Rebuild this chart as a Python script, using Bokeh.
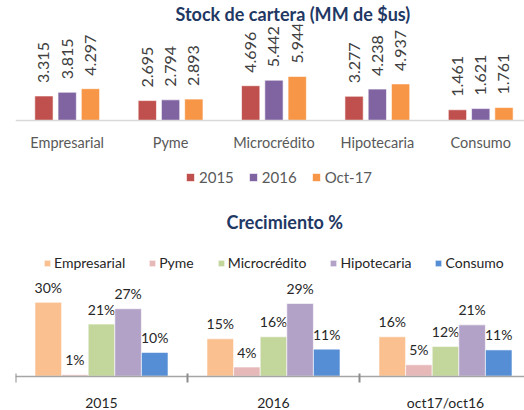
import math
from bokeh.plotting import figure
from bokeh.models import (Range1d, FixedTicker, Legend, LegendItem,
                          ColumnDataSource, LinearAxis)
from bokeh.layouts import column
from bokeh.core.properties import value
from bokeh.embed import file_html
from bokeh.resources import INLINE

# ---------------- data ----------------
categories = ["Empresarial", "Pyme", "Microcrédito", "Hipotecaria", "Consumo"]
stock_series = ["2015", "2016", "Oct-17"]
stock_2015 = [3.315, 2.695, 4.696, 3.277, 1.461]
stock_2016 = [3.815, 2.794, 5.442, 4.238, 1.621]
stock_oct17 = [4.297, 2.893, 5.944, 4.937, 1.761]
stock_colors = ["#C0504D", "#8064A2", "#F79646"]

growth_periods = ["2015", "2016", "oct17/oct16"]
growth_series = ["Empresarial", "Pyme", "Microcrédito", "Hipotecaria", "Consumo"]
growth_empresarial = [29.8, 15.1, 15.9]
growth_pyme = [0.6, 3.7, 4.6]
growth_micro = [21.0, 15.9, 12.0]
growth_hipo = [27.2, 29.3, 20.7]
growth_consumo = [9.6, 10.9, 10.6]
growth_colors = ["#FAC090", "#E6B9B8", "#C3D69B", "#B3A2C7", "#558ED5"]

FONT = "Lato"
TITLE_COLOR = "#1F3864"
W = 524

# ---------------- top chart ----------------
H1 = 198
top_px_per_unit = 7.45
top_cat_px = 104.6
t_left = 9
t_frame_top, t_base = 23.7, 120

p1 = figure(width=W, height=H1, output_backend="svg", toolbar_location=None,
            x_axis_type=None, y_axis_type=None,
            x_range=Range1d(-0.5, -0.5 + (W - t_left) / top_cat_px),
            y_range=Range1d(-(H1 - t_base) / top_px_per_unit,
                            (t_base - t_frame_top) / top_px_per_unit),
            min_border_left=t_left, min_border_right=0, min_border_top=23,
            min_border_bottom=0)
p1.outline_line_color = None
p1.title.text = "Stock de cartera (MM de $us)"
p1.title.align = "left"
p1.title.offset = 160
p1.title.vertical_align = "bottom"
p1.title.standoff = 0
p1.title.text_font = FONT
p1.title.text_font_size = "18px"
p1.title.text_font_style = "bold"
p1.title.text_color = TITLE_COLOR

top_offsets = [-0.225, 0.0, 0.225]
top_width = 0.177
items = []
for k, (name, vals, col) in enumerate(zip(stock_series,
                                          [stock_2015, stock_2016, stock_oct17],
                                          stock_colors)):
    src = ColumnDataSource(dict(
        x=[i + top_offsets[k] for i in range(len(categories))],
        top=vals,
        label=[f"{v:.3f}" for v in vals]))
    r = p1.vbar(x="x", top="top", bottom=0, width=top_width, source=src,
                fill_color=col, line_color="white", line_alpha=0.6, line_width=1)
    p1.text(x="x", y="top", text="label", source=src, angle=math.pi / 2,
            text_align="left", text_baseline="middle", y_offset=-13,
            text_font=value(FONT), text_font_size="16px", text_color="#404040")
    items.append(LegendItem(label=value(name), renderers=[r]))

ax1 = LinearAxis(ticker=FixedTicker(ticks=list(range(len(categories)))),
                 major_label_overrides={i: c for i, c in enumerate(categories)},
                 fixed_location=0)
ax1.axis_line_color = "#D9D9D9"
ax1.axis_line_width = 1.5
ax1.major_tick_line_color = None
ax1.major_tick_in = 0
ax1.major_tick_out = 0
ax1.minor_tick_line_color = None
ax1.major_label_standoff = 13
ax1.major_label_text_font = FONT
ax1.major_label_text_font_size = "14.5px"
ax1.major_label_text_color = "#595959"
p1.add_layout(ax1, "below")

leg1 = Legend(items=items, orientation="horizontal", location=(170, 12),
              glyph_width=10, glyph_height=10, label_height=10,
              label_standoff=4, spacing=14, padding=0, margin=0,
              border_line_color=None, background_fill_alpha=0,
              label_text_font=FONT, label_text_font_size="15px",
              label_text_color="#595959")
p1.add_layout(leg1)

# ---------------- bottom chart ----------------
H2 = 212
bot_px_per_unit = 2.48
bot_grp_px = 172.0
b_left = 15
b_frame_top, b_base = 44, 177.7   # figure-relative pixels

p2 = figure(width=W, height=H2, output_backend="svg", toolbar_location=None,
            x_axis_type=None, y_axis_type=None,
            x_range=Range1d(-0.5, -0.5 + (W - b_left) / bot_grp_px),
            y_range=Range1d(-(H2 - b_base) / bot_px_per_unit,
                            (b_base - b_frame_top) / bot_px_per_unit),
            min_border_left=b_left, min_border_right=0, min_border_top=44,
            min_border_bottom=0)
p2.outline_line_color = None
p2.title.text = "Crecimiento %"
p2.title.align = "left"
p2.title.offset = 211
p2.title.vertical_align = "bottom"
p2.title.standoff = 19.4
p2.title.text_font = FONT
p2.title.text_font_size = "18px"
p2.title.text_font_style = "bold"
p2.title.text_color = TITLE_COLOR

bw = 0.1547
items2 = []
for k, (name, vals, col) in enumerate(zip(growth_series,
                                          [growth_empresarial, growth_pyme, growth_micro,
                                           growth_hipo, growth_consumo],
                                          growth_colors)):
    src = ColumnDataSource(dict(
        x=[i + (k - 2) * bw for i in range(len(growth_periods))],
        top=vals,
        label=[f"{round(v)}%" for v in vals]))
    r = p2.vbar(x="x", top="top", bottom=0, width=bw, source=src,
                fill_color=col, line_color="white", line_alpha=0.6, line_width=1)
    p2.text(x="x", y="top", text="label", source=src,
            text_align="center", text_baseline="middle", y_offset=-15,
            text_font=value(FONT), text_font_size="14px", text_color="#262626")
    items2.append(LegendItem(label=value(name), renderers=[r]))

ax2 = LinearAxis(ticker=FixedTicker(ticks=list(range(len(growth_periods))),
                                    minor_ticks=[i - 0.5 for i in range(len(growth_periods) + 1)]),
                 major_label_overrides={i: c for i, c in enumerate(growth_periods)},
                 fixed_location=0)
ax2.axis_line_color = "#A6A6A6"
ax2.axis_line_width = 1.5
ax2.major_tick_line_color = None
ax2.major_tick_in = 0
ax2.major_tick_out = 0
ax2.minor_tick_line_color = "#8C8C8C"
ax2.minor_tick_line_width = 2
ax2.minor_tick_in = 3
ax2.minor_tick_out = 6
ax2.major_label_standoff = 12
ax2.major_label_text_font = FONT
ax2.major_label_text_font_size = "14px"
ax2.major_label_text_color = "#262626"
p2.add_layout(ax2, "below")

leg2 = Legend(items=items2, orientation="horizontal", location=(28, 139),
              glyph_width=8, glyph_height=8, label_height=8,
              label_standoff=3, spacing=23, padding=0, margin=0,
              border_line_color=None, background_fill_alpha=0,
              label_text_font=FONT, label_text_font_size="14px",
              label_text_color="#262626")
p2.add_layout(leg2)

layout = column(p1, p2, spacing=0)
open("out.html", "w").write(file_html(layout, INLINE))
